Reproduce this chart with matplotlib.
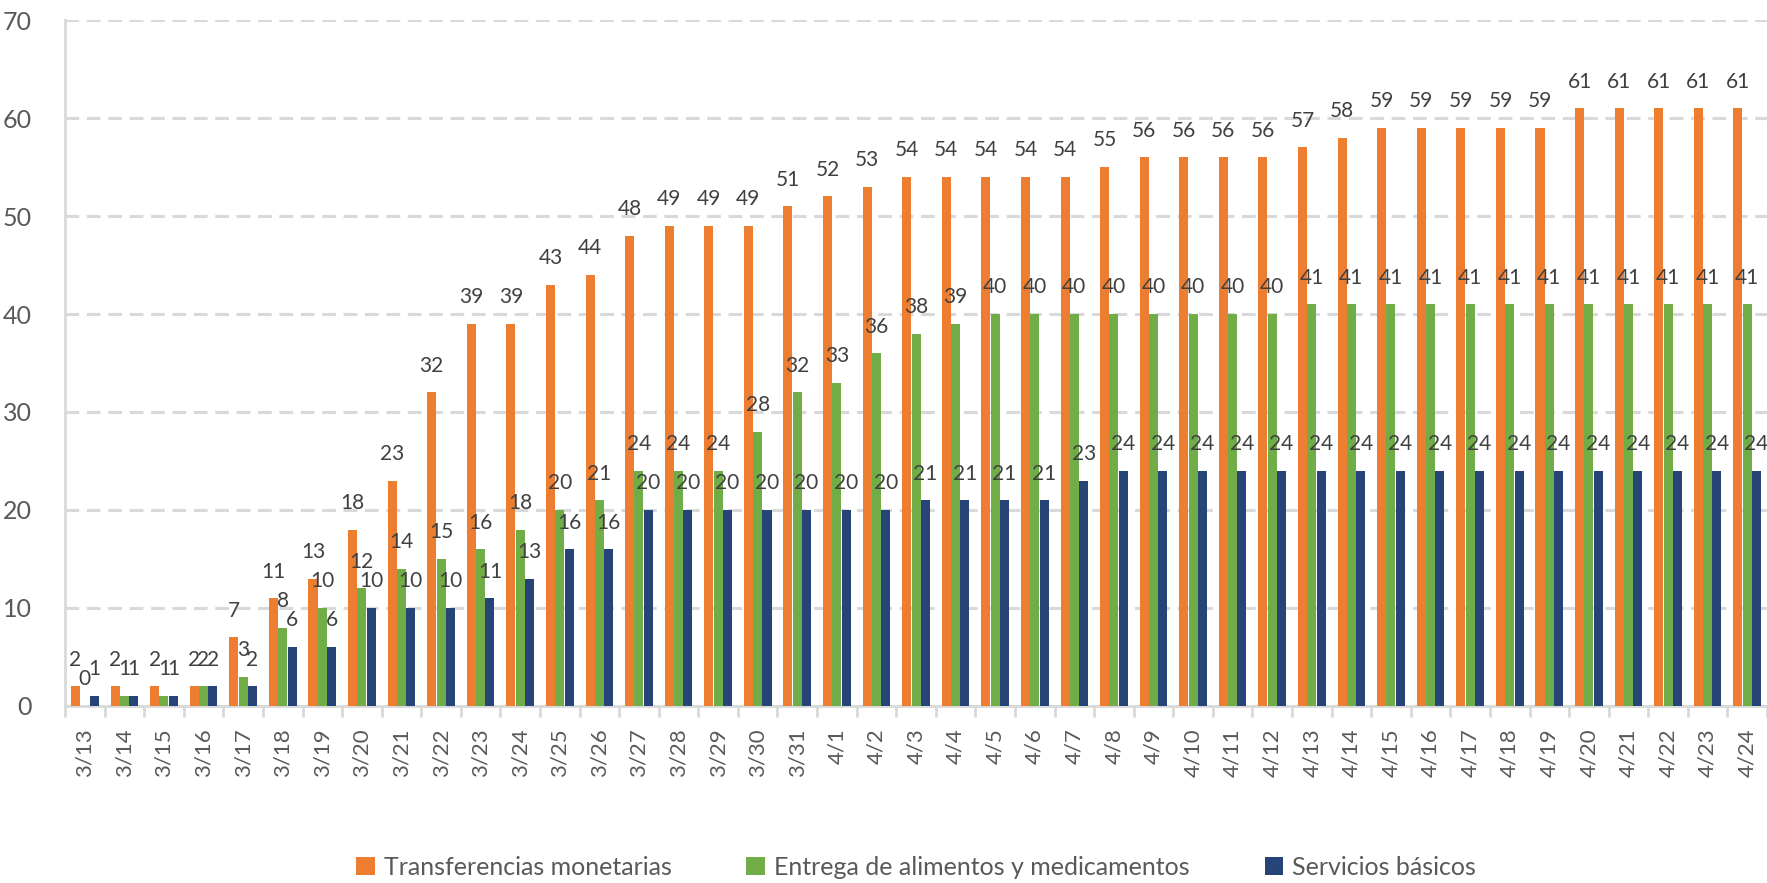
import numpy as np
import matplotlib
matplotlib.use('Agg')
import matplotlib.pyplot as plt

plt.rcParams['font.family'] = ['Lato', 'DejaVu Sans']

# fechas
fechas = ['3/13', '3/14', '3/15', '3/16', '3/17', '3/18', '3/19', '3/20', '3/21', '3/22',
          '3/23', '3/24', '3/25', '3/26', '3/27', '3/28', '3/29', '3/30', '3/31',
          '4/1', '4/2', '4/3', '4/4', '4/5', '4/6', '4/7', '4/8', '4/9', '4/10', '4/11',
          '4/12', '4/13', '4/14', '4/15', '4/16', '4/17', '4/18', '4/19', '4/20', '4/21',
          '4/22', '4/23', '4/24']

transferencias = [2, 2, 2, 2, 7, 11, 13, 18, 23, 32, 39, 39, 43, 44, 48, 49, 49, 49, 51,
                  52, 53, 54, 54, 54, 54, 54, 55, 56, 56, 56, 56, 57, 58, 59, 59, 59, 59, 59,
                  61, 61, 61, 61, 61]
alimentos = [0, 1, 1, 2, 3, 8, 10, 12, 14, 15, 16, 18, 20, 21, 24, 24, 24, 28, 32,
             33, 36, 38, 39, 40, 40, 40, 40, 40, 40, 40, 40, 41, 41, 41, 41, 41, 41, 41,
             41, 41, 41, 41, 41]
servicios = [1, 1, 1, 2, 2, 6, 6, 10, 10, 10, 11, 13, 16, 16, 20, 20, 20, 20, 20,
             20, 20, 21, 21, 21, 21, 23, 24, 24, 24, 24, 24, 24, 24, 24, 24, 24, 24, 24,
             24, 24, 24, 24, 24]

series = [('Transferencias monetarias', transferencias, '#ED7D31'),
          ('Entrega de alimentos y medicamentos', alimentos, '#70AD47'),
          ('Servicios básicos', servicios, '#264478')]

fig = plt.figure(figsize=(17.67, 8.83), dpi=100)
ax = fig.add_axes([0.0368, 0.2005, 0.9632, 0.7768])

x = np.arange(len(fechas))
ancho = 0.228
desplaz = [-0.235, 0.0, 0.235]

for (nombre, vals, color), d in zip(series, desplaz):
    barras = ax.bar(x + d, vals, ancho, color=color, label=nombre, zorder=3)
    for b, v in zip(barras, vals):
        ax.annotate(str(v), (b.get_x() + b.get_width() / 2, v),
                    xytext=(0, 12), textcoords='offset points',
                    ha='center', va='bottom', fontsize=15, color='#404040',
                    zorder=4, annotation_clip=False)

ax.set_xlim(-0.5, len(fechas) - 0.5)
ax.set_ylim(0, 70)
ax.set_yticks(range(0, 71, 10))
ax.tick_params(axis='y', length=0, pad=24, labelsize=18, labelcolor='#595959')

# etiquetas del eje x centradas, marcas entre categorias
ax.set_xticks(x)
ax.set_xticklabels(fechas, rotation=90, fontsize=16, color='#595959')
ax.set_xticks(np.arange(-0.5, len(fechas), 1), minor=True)
ax.tick_params(axis='x', which='major', length=0, pad=16)
ax.tick_params(axis='x', which='minor', length=8, width=2, color='#D9D9D9')

ax.grid(axis='y', color='#D9D9D9', linewidth=2.2, linestyle=(0, (4.5, 2.5)), zorder=0)
for lado in ['top', 'right']:
    ax.spines[lado].set_visible(False)
for lado in ['left', 'bottom']:
    ax.spines[lado].set_color('#D9D9D9')
    ax.spines[lado].set_linewidth(2)

ax.legend(loc='center', bbox_to_anchor=(0.5, -0.235), ncol=3, frameon=False,
          fontsize=18, labelcolor='#595959', handlelength=0.75, handleheight=0.75,
          handletextpad=0.35, columnspacing=3.0)

fig.savefig('out.png', dpi=100)
